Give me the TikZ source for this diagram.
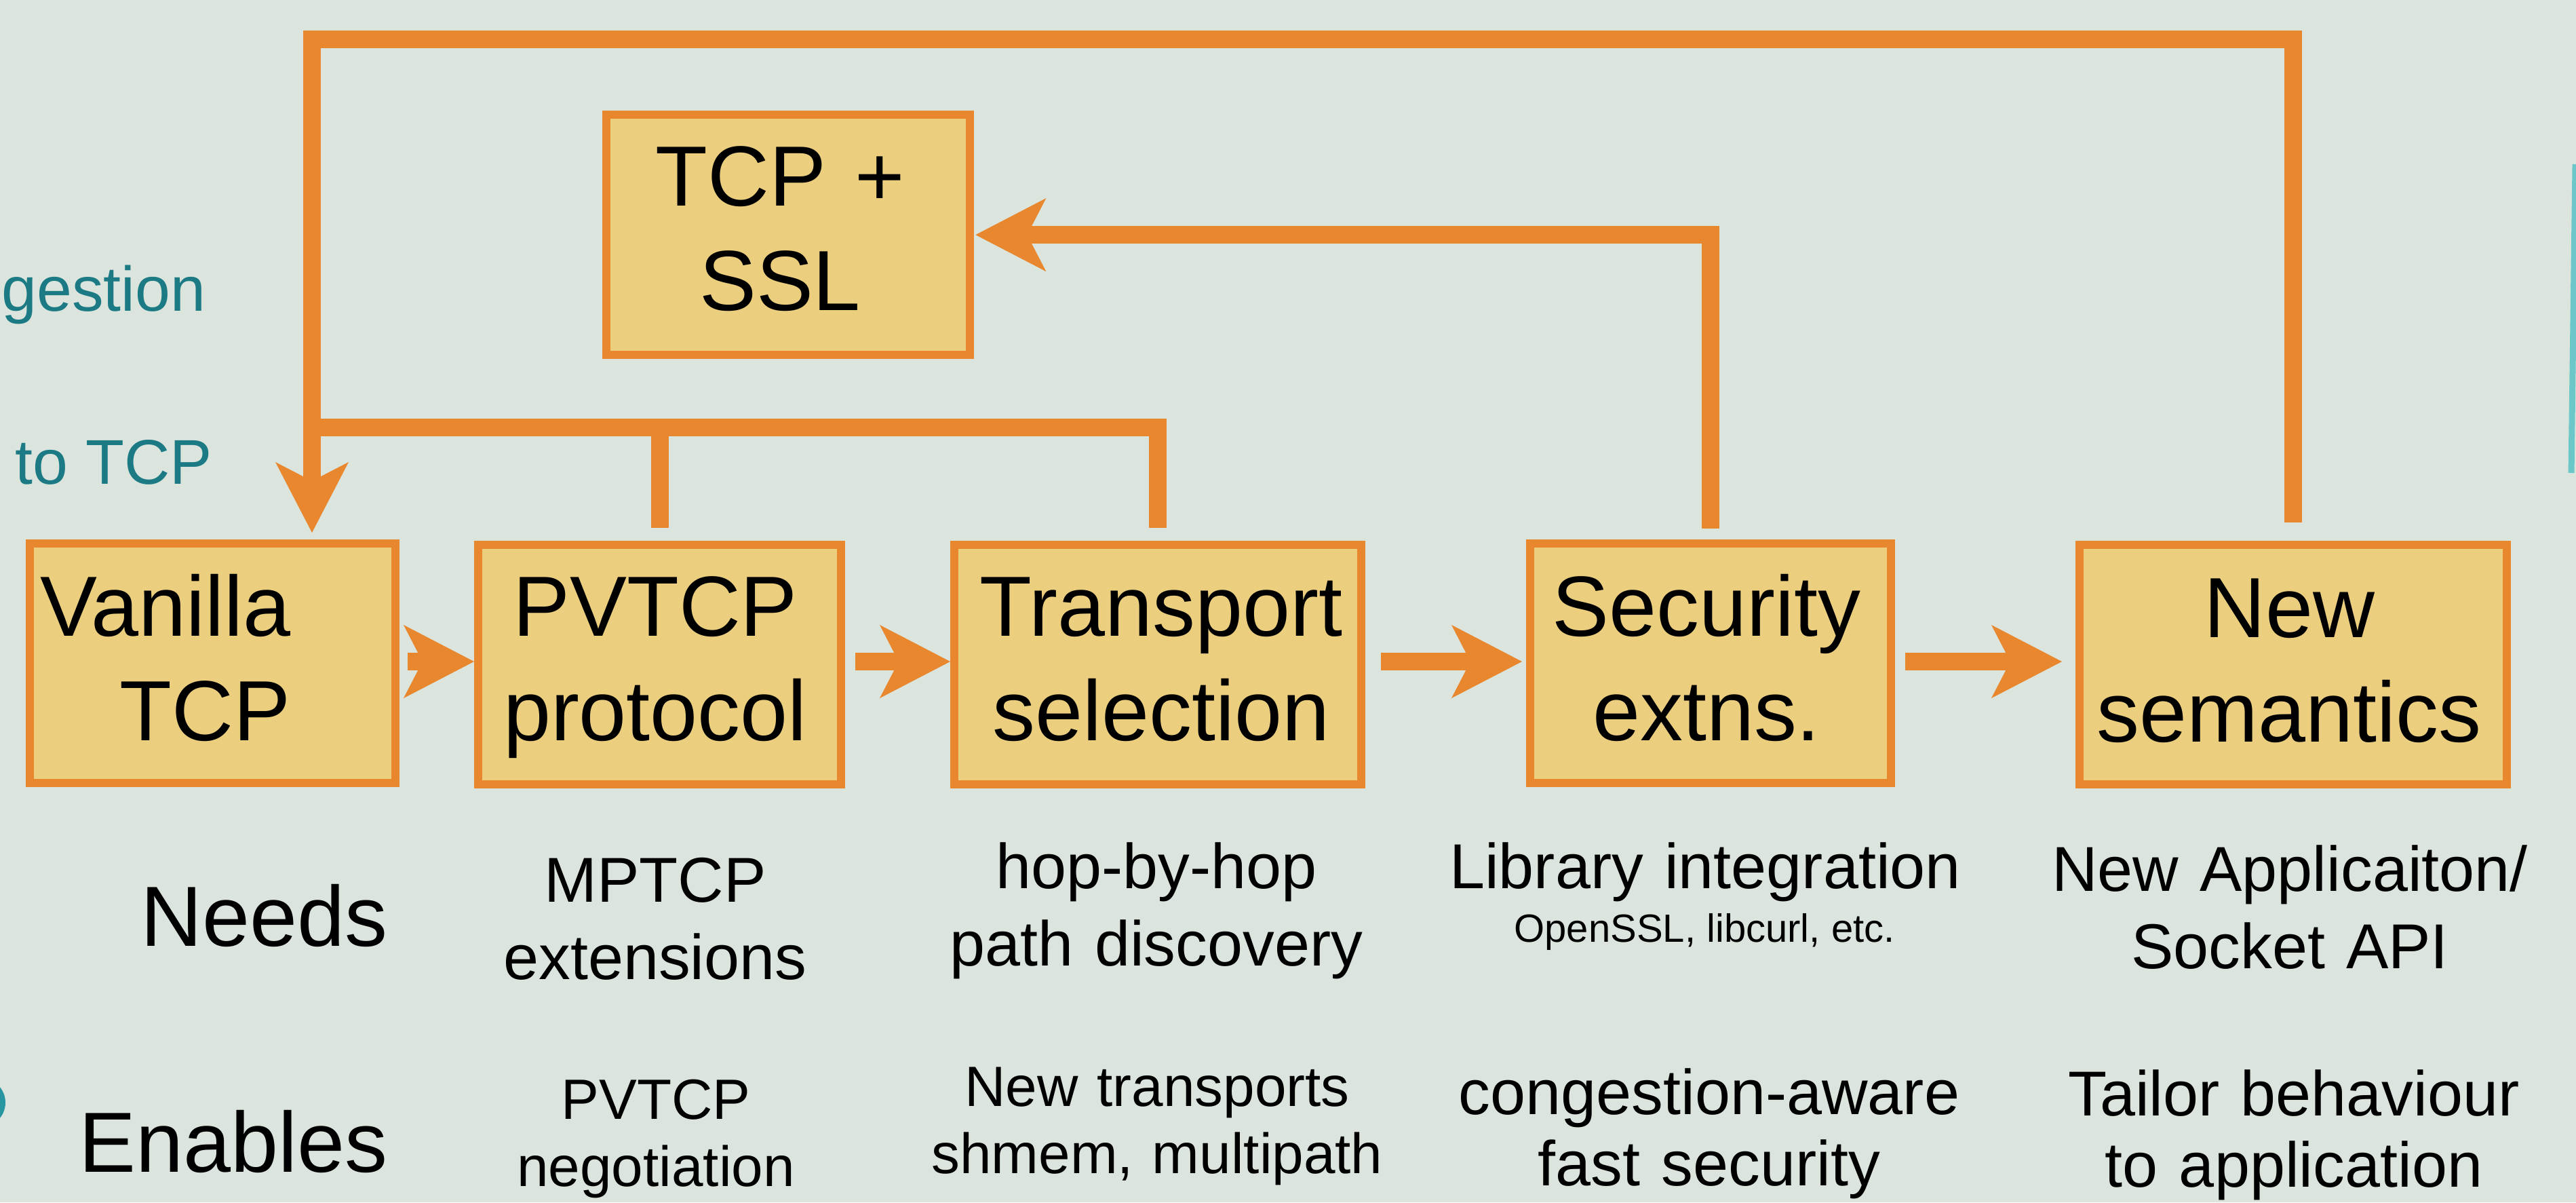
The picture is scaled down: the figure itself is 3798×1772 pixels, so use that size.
\documentclass[tikz,border=0pt]{standalone}
\usepackage{fontspec}
\setmainfont{Liberation Sans}
\usetikzlibrary{arrows.meta}
\definecolor{bg}{RGB}{219,229,221}
\definecolor{org}{RGB}{233,135,46}
\definecolor{boxfill}{RGB}{235,206,126}
\definecolor{tealtxt}{RGB}{27,122,132}
\definecolor{teallt}{RGB}{108,200,200}
\definecolor{tealmid}{RGB}{40,150,160}
\begin{document}
\begin{tikzpicture}[x=0.01cm,y=-0.01cm,
  box/.style={draw=org, fill=boxfill, line width=0.12cm, inner sep=0pt, anchor=north west, minimum height=3.53cm},
  bigtxt/.style={font=\fontsize{35.8}{44}\selectfont, inner sep=0pt, anchor=base, text width=8cm, align=center},
  desc/.style={font=\fontsize{26.6}{32.6}\selectfont, inner sep=0pt, anchor=base, text width=9cm, align=center},
  descb/.style={font=\fontsize{26.6}{30}\selectfont, inner sep=0pt, anchor=base, text width=9cm, align=center},
  descs/.style={font=\fontsize{23.8}{28.4}\selectfont, inner sep=0pt, anchor=base, text width=9cm, align=center},
  smalltxt/.style={font=\fontsize{16.5}{20}\selectfont, inner sep=0pt, anchor=base},
  tealt/.style={font=\fontsize{26.5}{32}\selectfont, text=tealtxt, inner sep=0pt},
  line/.style={draw=org, line width=0.26cm},
  arr/.style={line, -{Stealth[length=1.04cm, width=1.08cm, inset=0.28cm, line width=0pt]}}
]
\fill[bg] (0,0) rectangle (3798,1772);
\useasboundingbox (0,0) rectangle (3798,1772);

% boxes
\node[box, minimum width=5.39cm] (van) at (38,795) {};
\node[box, minimum width=5.35cm] (pv) at (699,797) {};
\node[box, minimum width=6.00cm] (tr) at (1401,797) {};
\node[box, minimum width=5.32cm] (sec) at (2250,795) {};
\node[box, minimum width=6.30cm] (new) at (3060,797) {};
\node[box, minimum width=5.36cm, minimum height=3.54cm] (ssl) at (888,163) {};

% box texts
\node[bigtxt, text width=4cm, align=right, anchor=base east] (vant) at (429,937) {Vanilla\\TCP};
\node[bigtxt] (pvt) at (966,937) {PVTCP\\protocol};
\node[bigtxt] (trt) at (1712,937) {Transport\\selection};
\node[bigtxt] (sect) at (2516,937) {Security\\extns.};
\node[bigtxt] (newt) at (3375,939) {New\\semantics};
\node[bigtxt] (sslt) at (1150,303) {TCP +\\SSL};

% connectors
\coordinate (topy) at (0,58);
\coordinate (midy) at (0,630);
\coordinate (vanx) at (460,0);
\coordinate (chainy) at (0,975);

\draw[arr, shorten <=0.27cm, shorten >=0.1cm] (new.north) |- (topy -| vanx) -- (van.north -| vanx);
\draw[line, shorten >=0.19cm] (vanx |- midy) -| (tr.north);
\draw[line, shorten <=0.19cm] (pv.north) -- (pv.north |- midy);
\draw[arr, shorten <=0.16cm, shorten >=0.02cm] (sec.north) |- (ssl.east);

\draw[arr, shorten <=0.12cm] (van.east |- chainy) -- (pv.west |- chainy);
\draw[arr, shorten <=0.15cm] (pv.east |- chainy) -- (tr.west |- chainy);
\draw[arr, shorten <=0.23cm, shorten >=0.06cm] (tr.east |- chainy) -- (sec.west |- chainy);
\draw[arr, shorten <=0.15cm, shorten >=0.2cm] (sec.east |- chainy) -- (new.west |- chainy);

% row labels
\node[bigtxt, text width=5cm, align=right, anchor=base east] (needs) at (572,1394) {Needs};
\node[bigtxt, text width=5cm, align=right, anchor=base east] (enables) at (572,1727) {Enables};

% needs
\node[desc] (n2) at (966,1329) {MPTCP\\extensions};
\node[desc] (n3) at (1705,1309) {hop-by-hop\\path discovery};
\node[desc] (n4) at (2514,1309) {Library integration};
\node[smalltxt] (n4b) at (2513,1388) {OpenSSL, libcurl, etc.};
\node[desc] (n5) at (3376,1313) {New Applicaiton/\\Socket API};

% enables
\node[descs] (e2) at (967,1649) {PVTCP\\negotiation};
\node[descs] (e3) at (1706,1630) {New transports\\shmem, multipath};
\node[descb] (e4) at (2520,1642) {congestion-aware\\fast security};
\node[descb] (e5) at (3382,1644) {Tailor behaviour\\to application};

% teal fragments at the edges
\node[tealt, anchor=base west] (cong) at (2,458) {gestion};
\node[tealt, anchor=base west] (totcp) at (22,713) {to TCP};
\draw[teallt, line width=0.09cm] (3797,242) -- (3791,697);
\draw[tealmid, line width=0.08cm] (-28,1625) circle (0.32cm);
\end{tikzpicture}
\end{document}
